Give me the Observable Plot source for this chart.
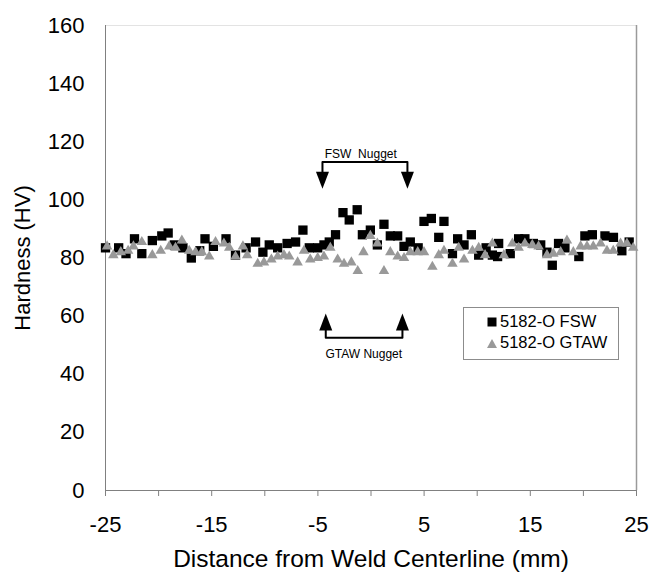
<!DOCTYPE html>
<html>
<head>
<meta charset="utf-8">
<script src="https://cdn.jsdelivr.net/npm/d3@7"></script>
<script src="https://cdn.jsdelivr.net/npm/@observablehq/plot@0.6"></script>
<style>
  html, body { margin: 0; padding: 0; background: #fff; }
  #wrap { position: relative; width: 652px; height: 578px; font-family: "Liberation Sans", Arial, sans-serif; }
  #legend { position: absolute; left: 463px; top: 307px; width: 156px; height: 53px; border: 1px solid #8c8c8c; background: #fff; box-sizing: border-box; }
  .item { position: absolute; left: 22px; font-size: 16.5px; color: #000; white-space: nowrap; display: flex; align-items: center; }
  .item svg { margin-right: 2px; }
</style>
</head>
<body>
<div id="wrap"></div>
<script>
// FSW (5182-O FSW) hardness readings
const fswX = [-25, -23.76, -23.07, -22.27, -21.58, -20.59, -19.70, -19.10, -18.51, -17.71, -16.92, -16.13, -15.63, -14.84, -13.65, -12.76, -11.76, -10.87, -10.18, -9.58, -8.79, -7.90, -7.10, -6.41, -5.81, -5.02, -4.43, -3.93, -3.34, -2.64, -2.05, -1.30, -0.81, -0.06, 0.60, 1.22, 1.82, 2.51, 3.11, 3.70, 4.44, 4.99, 5.68, 6.38, 6.87, 7.67, 8.16, 8.76, 9.45, 10.14, 10.84, 11.43, 11.92, 12.02, 13.11, 13.90, 14.49, 15.29, 15.98, 16.57, 17.07, 17.66, 18.26, 19.57, 20.14, 20.84, 22.03, 22.83, 23.62, 24.31];
const fswHV = [83.5, 83.5, 81.5, 86.6, 81.5, 86, 87.6, 88.6, 84.5, 83.5, 80, 82.5, 86.6, 84, 86.6, 81, 83.5, 85.5, 82, 84.5, 83.5, 85, 85.5, 89.6, 83.5, 83.5, 84.5, 85.5, 88, 95.6, 93.1, 96.6, 88, 89.6, 84.5, 91.6, 87.6, 87.6, 84, 85.5, 83.5, 92.6, 93.6, 87.1, 92.6, 81.5, 86.6, 84.5, 88, 81, 83.5, 81, 80.5, 85, 81.5, 86.6, 86.6, 85, 84.5, 82, 77.5, 85, 83.5, 80.5, 87.6, 88, 87.6, 87.1, 82.5, 85.5];

// GTAW (5182-O GTAW) hardness readings
const gtawX = [-24.85, -24.26, -23.56, -22.87, -22.37, -21.58, -20.59, -19.80, -19.00, -18.41, -17.81, -17.12, -16.52, -15.93, -15.23, -14.64, -13.85, -13.35, -12.76, -12.06, -11.66, -10.67, -10.08, -9.38, -8.79, -8.19, -7.70, -6.91, -6.31, -5.72, -5.02, -4.43, -3.83, -3.14, -2.54, -1.85, -1.25, -0.71, -0.06, 0.60, 1.22, 1.82, 2.51, 3.11, 3.70, 4.40, 4.99, 5.78, 6.38, 6.87, 7.67, 8.26, 8.76, 9.55, 10.14, 10.74, 11.43, 12.51, 13.31, 13.90, 14.49, 15.19, 15.78, 16.57, 17.17, 17.86, 18.45, 19.05, 19.74, 20.34, 20.93, 21.62, 22.22, 22.81, 23.50, 24.10, 24.69];
const gtawHV = [84, 81, 82, 82.5, 84, 85.5, 81, 82.5, 84, 83.5, 86, 82.5, 82, 82, 80.5, 85.5, 85, 83.5, 80.5, 84, 81, 78, 78.5, 79.5, 80.5, 81, 80.5, 78.5, 82.5, 79.5, 80, 80.5, 83.5, 79.5, 78, 78.5, 75.5, 82, 87.6, 85, 75.5, 82, 80.5, 80, 82, 82, 82, 77, 81, 82.5, 78, 83.5, 79.5, 82.5, 83.5, 81, 85, 81, 85, 83.5, 85, 84.5, 84, 81, 81.5, 82, 86, 82, 84, 84, 84, 85, 82.5, 82.5, 85, 85, 83.5];

// Axis ticks
const xTicksAll = [-25, -20, -15, -10, -5, 0, 5, 10, 15, 20, 25];
const xTickLabels = [-25, -15, -5, 5, 15, 25];
const yTicks = [0, 20, 40, 60, 80, 100, 120, 140, 160];

// Annotations (data coordinates)
const fswBracketX = [-4.57, -4.57, 3.43, 3.43];
const fswBracketY = [109.5, 113.0, 113.0, 109.5];
const fswArrowX = [-4.57, 3.43];
const fswArrowTipY = [103.8, 103.8];
const fswLabel = {text: "FSW  Nugget", x: -0.96, y: 115.6};

const gtawBracketX = [-4.26, -4.26, 2.96, 2.96];
const gtawBracketY = [55.1, 52.6, 52.6, 55.1];
const gtawArrowX = [-4.26, 2.96];
const gtawArrowTipY = [60.9, 60.9];
const gtawLabel = {text: "GTAW Nugget", x: -0.68, y: 46.8};

const xTitle = "Distance from Weld Centerline (mm)";
const yTitle = "Hardness (HV)";
const seriesNames = ["5182-O FSW", "5182-O GTAW"];

const fsw = fswX.map((x, i) => ({x, hv: fswHV[i]}));
const gtaw = gtawX.map((x, i) => ({x, hv: gtawHV[i]}));
const fswBracket = fswBracketX.map((x, i) => ({x, y: fswBracketY[i]}));
const gtawBracket = gtawBracketX.map((x, i) => ({x, y: gtawBracketY[i]}));
const fswArrows = fswArrowX.map((x, i) => ({x, y: fswArrowTipY[i]}));
const gtawArrows = gtawArrowX.map((x, i) => ({x, y: gtawArrowTipY[i]}));

const headShape = {
  draw(context, l) {
    context.moveTo(0, 0);
    context.lineTo(-6.5, -l);
    context.lineTo(6.5, -l);
    context.closePath();
  }
};

const font = "'Liberation Sans', Arial, sans-serif";
const plain = d => String(d);

const chart = Plot.plot({
  width: 652,
  height: 578,
  marginLeft: 105,
  marginRight: 16,
  marginTop: 25,
  marginBottom: 88,
  style: {fontFamily: font, fontSize: "22px", color: "#000", background: "#fff"},
  x: {domain: [-25, 25]},
  y: {domain: [0, 160]},
  marks: [
    Plot.ruleY([160], {stroke: "#e3e3e3", strokeWidth: 1}),
    Plot.ruleX([25], {stroke: "#9a9a9a", strokeWidth: 1.5}),
    Plot.ruleX([-25], {stroke: "#808080", strokeWidth: 1}),
    Plot.ruleY([0], {stroke: "#808080", strokeWidth: 1}),
    Plot.axisY({ticks: yTicks, tickSize: 0, tickPadding: 21, label: null, fontSize: 22, tickFormat: plain}),
    Plot.axisX({ticks: xTicksAll, tickSize: 6, tickFormat: () => "", label: null, stroke: "#808080"}),
    Plot.axisX({ticks: xTickLabels, tickSize: 0, tickPadding: 26, label: null, fontSize: 22, tickFormat: plain}),
    Plot.text([xTitle], {frameAnchor: "bottom", dy: 76, fontSize: 24.5, text: d => d}),
    Plot.text([yTitle], {frameAnchor: "left", dx: -83, rotate: -90, textAnchor: "middle", fontSize: 22, text: d => d}),
    Plot.dot(fsw, {x: "x", y: "hv", symbol: "square", r: 5.25, fill: "#000", stroke: "none"}),
    Plot.dot(gtaw, {x: "x", y: "hv", symbol: "triangle", r: 3.9, fill: "#999", stroke: "none"}),
    Plot.line(fswBracket, {x: "x", y: "y", stroke: "#000", strokeWidth: 2}),
    Plot.line(gtawBracket, {x: "x", y: "y", stroke: "#000", strokeWidth: 2}),
    Plot.vector(fswArrows, {x: "x", y: "y", length: 17, rotate: 0, anchor: "start", shape: headShape, fill: "#000", stroke: "none"}),
    Plot.vector(gtawArrows, {x: "x", y: "y", length: 17, rotate: 180, anchor: "start", shape: headShape, fill: "#000", stroke: "none"}),
    Plot.text([fswLabel], {x: "x", y: "y", text: "text", fontSize: 12}),
    Plot.text([gtawLabel], {x: "x", y: "y", text: "text", fontSize: 12})
  ]
});

const wrap = document.getElementById("wrap");
wrap.appendChild(chart);

const legend = document.createElement("div");
legend.id = "legend";
legend.innerHTML = `
  <div class="item" style="top:4px"><svg width="12" height="12"><rect x="1.5" y="1.5" width="9" height="9" fill="#000"/></svg>${seriesNames[0]}</div>
  <div class="item" style="top:25px"><svg width="12" height="12"><polygon points="6,2 11,11 1,11" fill="#999"/></svg>${seriesNames[1]}</div>`;
wrap.appendChild(legend);
</script>
</body>
</html>
